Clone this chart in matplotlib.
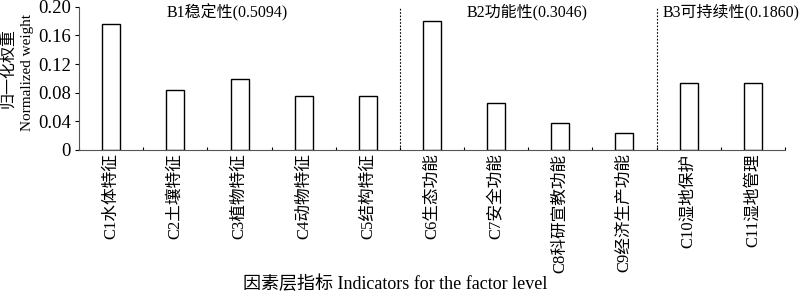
import matplotlib.pyplot as plt
import numpy as np

plt.rcParams['font.family'] = ['Liberation Serif', 'Noto Sans CJK SC']

categories = ['C1水体特征', 'C2土壤特征', 'C3植物特征', 'C4动物特征', 'C5结构特征',
              'C6生态功能', 'C7安全功能', 'C8科研宣教功能', 'C9经济生产功能',
              'C10湿地保护', 'C11湿地管理']
weights = [0.176, 0.084, 0.099, 0.075, 0.075,
           0.180, 0.065, 0.037, 0.023,
           0.093, 0.093]
groups = ['B1稳定性(0.5094)', 'B2功能性(0.3046)', 'B3可持续性(0.1860)']
group_sizes = [5, 4, 2]
yticks = [0, 0.04, 0.08, 0.12, 0.16, 0.20]
ytick_labels = ['0', '0.04', '0.08', '0.12', '0.16', '0.20']

fig = plt.figure(figsize=(8, 2.98), dpi=100)
ax = fig.add_axes([0.099, 0.497, 0.882, 0.48])

x = np.arange(len(categories))
ax.bar(x, weights, width=0.28, color='white', edgecolor='black', linewidth=1.0)

ax.set_xlim(-0.5, len(categories) - 0.5)
ax.set_ylim(0, 0.2)
ax.set_yticks(yticks)
ax.set_yticklabels(ytick_labels, fontsize=13.5)
ax.tick_params(axis='y', direction='out', length=3, width=0.8, pad=3)

# ticks between categories, labels at the centres
ax.set_xticks(np.arange(len(categories) + 1) - 0.5)
ax.set_xticklabels([])
ax.tick_params(axis='x', direction='in', length=2, width=0.8)
for i, c in enumerate(categories):
    ax.text(i, -0.005, c, rotation=90, ha='center', va='top', fontsize=12)

for s in ['top', 'right']:
    ax.spines[s].set_visible(False)
ax.spines['left'].set_color('#555555')
ax.spines['bottom'].set_color('#555555')

# group separators and titles
bounds = np.cumsum(group_sizes)[:-1] - 0.5
for b in bounds:
    ax.plot([b, b], [0, 0.2], color='black', linestyle=(0, (1.5, 1.5)), linewidth=0.8)
label_x = [1.8, 6.49, 9.66]
for gx, g in zip(label_x, groups):
    ax.text(gx, 0.1923, g, ha='center', va='center', fontsize=11.5)

fig.text(0.010, 0.772, '归一化权重', rotation=90, ha='center', va='center', fontsize=11.5)
fig.text(0.034, 0.758, 'Normalized weight', rotation=90, ha='center', va='center', fontsize=11)
fig.text(0.494, 0.045, '因素层指标 Indicators for the factor level', ha='center', va='center', fontsize=13)

plt.savefig('out.png', dpi=100)
